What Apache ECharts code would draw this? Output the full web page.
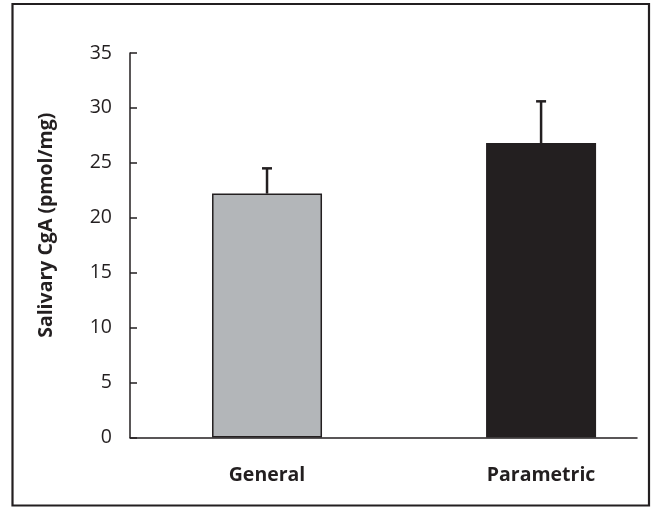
<!DOCTYPE html>
<html>
<head>
<meta charset="utf-8">
<script src="https://cdn.jsdelivr.net/npm/echarts@6/dist/echarts.min.js"></script>
<style>html,body{margin:0;padding:0;background:#fff}#c{width:655px;height:508px}</style>
</head>
<body>
<div id="c"></div>
<script>
const categories = ['General', 'Parametric'];
const means = [22.2, 26.8];
const errors = [2.3, 3.8];
const barColors = ['#b3b6b9', '#231f20'];
const yTicks = [0, 5, 10, 15, 20, 25, 30, 35];
const yTitle = 'Salivary CgA (pmol/mg)';

// category i sits at x = 2*i + 1 on the value axis
const pos = categories.map((c, i) => 2 * i + 1);
const labelMap = {};
categories.forEach((c, i) => { labelMap[pos[i]] = c; });

const ink = '#231f20';
const font = '"Open Sans", "Liberation Sans", sans-serif';

const chart = echarts.init(document.getElementById('c'), null, {renderer: 'canvas'});
chart.setOption({
  backgroundColor: '#fff',
  animation: false,
  grid: {left: 130, right: 18, top: 53, bottom: 70.5, containLabel: false},
  xAxis: {
    type: 'value', min: 0, max: 3.7, interval: 1,
    axisLine: {show: true, onZero: false, lineStyle: {color: ink, width: 1.5}},
    axisTick: {show: false},
    splitLine: {show: false},
    axisLabel: {
      margin: 28, fontFamily: font, fontSize: 19.5, fontWeight: 'bold', color: ink,
      showMaxLabel: false,
      formatter: v => labelMap[v] || ''
    }
  },
  yAxis: {
    type: 'value', min: yTicks[0], max: yTicks[yTicks.length - 1], interval: yTicks[1] - yTicks[0],
    name: yTitle, nameLocation: 'middle', nameGap: 74, nameRotate: 90,
    nameTextStyle: {fontFamily: font, fontSize: 19.5, fontWeight: 'bold', color: ink, padding: [0, 0, 0, 40]},
    axisLine: {show: true, lineStyle: {color: ink, width: 1.5}},
    axisTick: {show: true, inside: true, length: 7, lineStyle: {color: ink, width: 1.5}},
    splitLine: {show: false},
    axisLabel: {margin: 18, fontFamily: font, fontSize: 19.5, color: ink}
  },
  series: [
    {
      type: 'bar', barWidth: 110,
      data: categories.map((c, i) => ({
        value: [pos[i], means[i]],
        itemStyle: {color: barColors[i], borderColor: ink, borderWidth: 1.5}
      }))
    },
    {
      type: 'custom', z: 1,
      data: categories.map((c, i) => [pos[i], means[i], means[i] + errors[i]]),
      renderItem: (params, api) => {
        const base = api.coord([api.value(0), api.value(1)]);
        const top = api.coord([api.value(0), api.value(2)]);
        return {
          type: 'group',
          children: [
            {type: 'line', shape: {x1: base[0], y1: base[1], x2: top[0], y2: top[1]}, style: {stroke: ink, lineWidth: 2.5}},
            {type: 'line', shape: {x1: top[0] - 5, y1: top[1], x2: top[0] + 5, y2: top[1]}, style: {stroke: ink, lineWidth: 2.5}}
          ]
        };
      }
    }
  ],
  graphic: [{
    type: 'rect', shape: {x: 12.5, y: 4, width: 636.5, height: 501.5},
    style: {fill: null, stroke: ink, lineWidth: 2.2}, silent: true
  }]
});
</script>
</body>
</html>
